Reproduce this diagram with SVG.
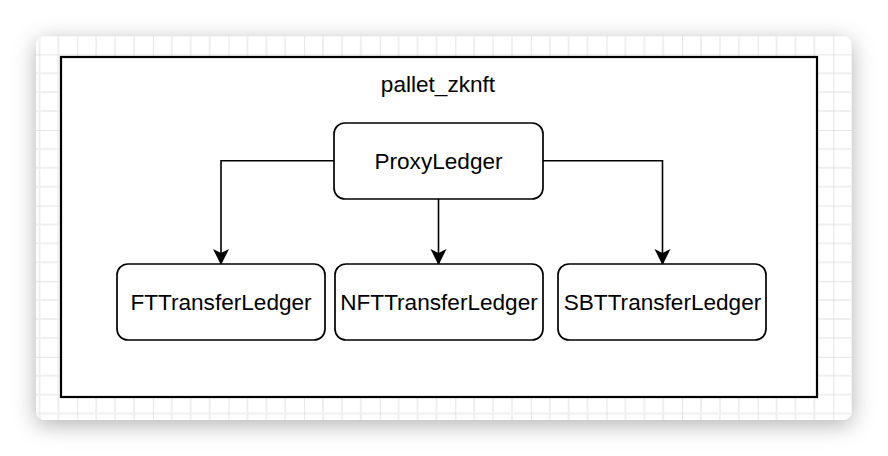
<svg xmlns="http://www.w3.org/2000/svg" width="888" height="456" viewBox="0 0 888 456">
  <defs>
    <style>
      .node rect { fill: #ffffff; stroke: #000000; stroke-width: 1.7; }
      .label { font-family: "Liberation Sans", Arial, sans-serif; font-size: 22.6px; fill: #000000; text-anchor: middle; }
      .conn { fill: none; stroke: #000000; stroke-width: 1.6; }
    </style>
    <pattern id="grid" patternUnits="userSpaceOnUse" x="1.7" y="-21.2" width="75.6" height="75.6">
      <rect width="75.6" height="75.6" fill="#ffffff"/>
      <g stroke="#efefef" stroke-width="2">
        <line x1="18.9" y1="0" x2="18.9" y2="75.6"/>
        <line x1="37.8" y1="0" x2="37.8" y2="75.6"/>
        <line x1="56.7" y1="0" x2="56.7" y2="75.6"/>
        <line x1="0" y1="18.9" x2="75.6" y2="18.9"/>
        <line x1="0" y1="37.8" x2="75.6" y2="37.8"/>
        <line x1="0" y1="56.7" x2="75.6" y2="56.7"/>
      </g>
      <g stroke="#cbcbcb" stroke-width="1">
        <line x1="0" y1="0" x2="0" y2="75.6"/>
        <line x1="0" y1="0" x2="75.6" y2="0"/>
      </g>
    </pattern>
    <filter id="shadow" x="-10%" y="-15%" width="120%" height="140%">
      <feDropShadow dx="0" dy="5" stdDeviation="11" flood-color="#000000" flood-opacity="0.3"/>
    </filter>
    <marker id="arrow" viewBox="0 0 16 18" refX="15" refY="9" markerWidth="16" markerHeight="18" markerUnits="userSpaceOnUse" orient="auto">
      <path d="M0,1 L16,9 L0,17 L4,9 Z" fill="#000000"/>
    </marker>
  </defs>

  <rect width="888" height="456" fill="#ffffff"/>
  <rect x="36" y="36" width="816" height="384" rx="9" fill="#ffffff" filter="url(#shadow)"/>
  <rect x="36" y="36" width="816" height="384" rx="9" fill="url(#grid)"/>

  <g id="pallet_zknft">
    <rect x="61" y="57" width="756" height="340" fill="#ffffff" stroke="#000000" stroke-width="2.2"/>
    <text class="label" x="438" y="91.5">pallet_zknft</text>
  </g>

  <g id="connectors">
    <path class="conn" d="M334,160.7 L221,160.7 L221,264" marker-end="url(#arrow)"/>
    <path class="conn" d="M438.5,199 L438.5,264" marker-end="url(#arrow)"/>
    <path class="conn" d="M543,160.7 L662.5,160.7 L662.5,264" marker-end="url(#arrow)"/>
  </g>

  <g id="ProxyLedger" class="node">
    <rect x="334" y="123" width="209" height="76" rx="11"/>
    <text class="label" x="438.5" y="168.5">ProxyLedger</text>
  </g>

  <g id="FTTransferLedger" class="node">
    <rect x="117" y="264" width="208" height="76" rx="11"/>
    <text class="label" x="221" y="310">FTTransferLedger</text>
  </g>

  <g id="NFTTransferLedger" class="node">
    <rect x="335" y="264" width="208" height="76" rx="11"/>
    <text class="label" x="439" y="310">NFTTransferLedger</text>
  </g>

  <g id="SBTTransferLedger" class="node">
    <rect x="558" y="264" width="208" height="76" rx="11"/>
    <text class="label" x="662.5" y="310">SBTTransferLedger</text>
  </g>
</svg>
